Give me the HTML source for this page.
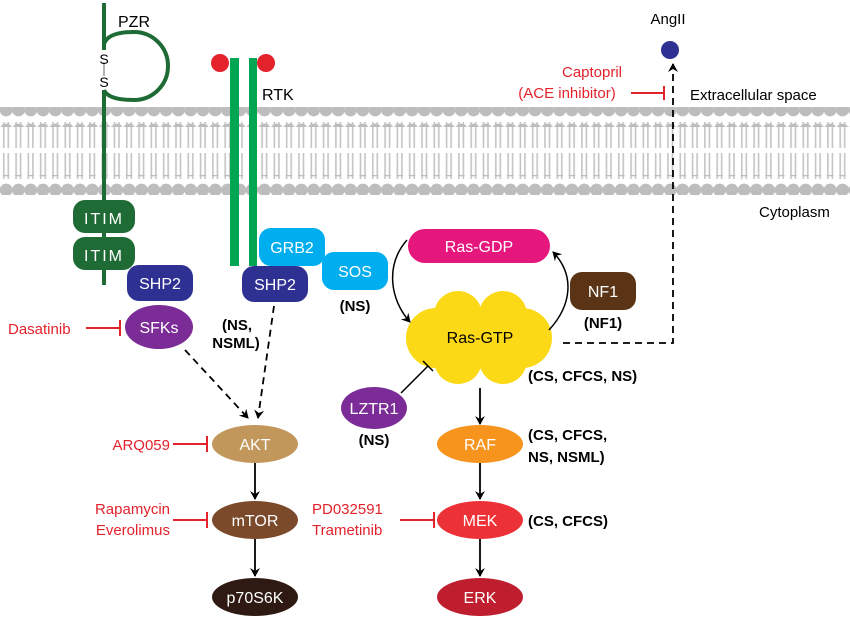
<!DOCTYPE html>
<html><head><style>body{margin:0;background:#fff}svg{display:block}text{font-family:"Liberation Sans",sans-serif}</style></head><body>
<svg width="850" height="617" viewBox="0 0 850 617" xmlns="http://www.w3.org/2000/svg">
<defs>
<pattern id="tails" x="0" y="0" width="12.3" height="80" patternUnits="userSpaceOnUse">
<rect x="3" y="0" width="1.6" height="80" fill="#c4c4c4"/><rect x="7.5" y="0" width="1.6" height="80" fill="#c4c4c4"/>
</pattern>
<pattern id="heads" x="0" y="0" width="12.3" height="20" patternUnits="userSpaceOnUse">
<circle cx="6.15" cy="10" r="6.4" fill="#bdbdbd"/>
</pattern>
<marker id="ah" markerWidth="10" markerHeight="10" refX="8" refY="5" orient="auto" markerUnits="userSpaceOnUse"><path d="M0,0 L9,5 L0,10 L3,5 z" fill="#000"/></marker>
</defs>
<!-- membrane -->
<rect x="0" y="122" width="850" height="26" fill="url(#tails)"/>
<rect x="0" y="153" width="850" height="26" fill="url(#tails)"/>
<rect x="0" y="107" width="850" height="20" fill="url(#heads)"/>
<rect x="0" y="175" width="850" height="20" fill="url(#heads)"/>
<text x="690" y="100" font-size="15">Extracellular space</text>
<text x="759" y="217" font-size="15">Cytoplasm</text>
<!-- PZR -->
<line x1="104" y1="3" x2="104" y2="50" stroke="#1f6b35" stroke-width="4"/>
<line x1="104" y1="90" x2="104" y2="285" stroke="#1f6b35" stroke-width="4"/>
<line x1="104" y1="62" x2="104" y2="76" stroke="#666" stroke-width="1"/>
<path d="M104,44 Q108,32 134,32 A34,34 0 0 1 134,100 Q108,100 104,90" fill="none" stroke="#1f6b35" stroke-width="4"/>
<text x="104" y="64" font-size="14" text-anchor="middle">S</text>
<text x="104" y="87" font-size="14" text-anchor="middle">S</text>
<text x="118" y="27" font-size="16">PZR</text>
<rect x="73" y="200" width="62" height="33" rx="12" fill="#1f6b35"/>
<rect x="73" y="237" width="62" height="33" rx="12" fill="#1f6b35"/>
<text x="104" y="224" font-size="16" fill="#fff" text-anchor="middle" letter-spacing="2">ITIM</text>
<text x="104" y="261" font-size="16" fill="#fff" text-anchor="middle" letter-spacing="2">ITIM</text>
<!-- RTK -->
<rect x="230" y="58" width="9" height="208" fill="#00a651"/>
<rect x="249" y="58" width="8" height="208" fill="#00a651"/>
<circle cx="220" cy="63" r="9" fill="#e3222b"/>
<circle cx="266" cy="63" r="9" fill="#e3222b"/>
<text x="262" y="100" font-size="16">RTK</text>
<!-- AngII -->
<circle cx="670" cy="50" r="9" fill="#2e3192"/>
<text x="668" y="24" font-size="15" text-anchor="middle">AngII</text>
<text x="592" y="77" font-size="15" fill="#e3222b" text-anchor="middle">Captopril</text>
<text x="567" y="98" font-size="15" fill="#e3222b" text-anchor="middle">(ACE inhibitor)</text>
<line x1="631" y1="93" x2="664" y2="93" stroke="#e3222b" stroke-width="2"/>
<line x1="664" y1="86" x2="664" y2="100" stroke="#e3222b" stroke-width="2"/>
<path d="M563,343 L673,343 L673,64" fill="none" stroke="#000" stroke-width="1.8" stroke-dasharray="7,5" marker-end="url(#ah)"/>
<!-- blue boxes -->
<rect x="259" y="228" width="66" height="38" rx="12" fill="#00aeef"/>
<text x="292" y="253" font-size="16" fill="#fff" text-anchor="middle">GRB2</text>
<rect x="322" y="252" width="66" height="38" rx="12" fill="#00aeef"/>
<text x="355" y="277" font-size="16" fill="#fff" text-anchor="middle">SOS</text>
<rect x="127" y="265" width="66" height="36" rx="12" fill="#2e3192"/>
<text x="160" y="289" font-size="16" fill="#fff" text-anchor="middle">SHP2</text>
<rect x="242" y="266" width="66" height="36" rx="12" fill="#2e3192"/>
<text x="275" y="290" font-size="16" fill="#fff" text-anchor="middle">SHP2</text>
<text x="355" y="311" font-size="15" font-weight="bold" text-anchor="middle">(NS)</text>
<text x="237" y="330" font-size="15" font-weight="bold" text-anchor="middle">(NS,</text>
<text x="236" y="348" font-size="15" font-weight="bold" text-anchor="middle">NSML)</text>
<!-- SFKs -->
<ellipse cx="159" cy="327" rx="34" ry="22" fill="#7b2c96"/>
<text x="159" y="333" font-size="16" fill="#fff" text-anchor="middle">SFKs</text>
<text x="8" y="334" font-size="15" fill="#e3222b">Dasatinib</text>
<line x1="86" y1="328" x2="120" y2="328" stroke="#e3222b" stroke-width="2"/>
<line x1="120" y1="320" x2="120" y2="336" stroke="#e3222b" stroke-width="2"/>
<line x1="185" y1="350" x2="248" y2="418" stroke="#000" stroke-width="1.8" stroke-dasharray="7,5" marker-end="url(#ah)"/>
<line x1="274" y1="306" x2="258" y2="418" stroke="#000" stroke-width="1.8" stroke-dasharray="7,5" marker-end="url(#ah)"/>
<!-- left chain -->
<ellipse cx="255" cy="444" rx="43" ry="19" fill="#c1975c"/>
<text x="255" y="450" font-size="16" fill="#fff" text-anchor="middle">AKT</text>
<ellipse cx="255" cy="520" rx="43" ry="19" fill="#7b4a2b"/>
<text x="255" y="526" font-size="16" fill="#fff" text-anchor="middle">mTOR</text>
<ellipse cx="255" cy="597" rx="43" ry="19" fill="#2e1a12"/>
<text x="255" y="603" font-size="16" fill="#fff" text-anchor="middle">p70S6K</text>
<line x1="255" y1="463" x2="255" y2="499" stroke="#000" stroke-width="1.8" marker-end="url(#ah)"/>
<line x1="255" y1="539" x2="255" y2="576" stroke="#000" stroke-width="1.8" marker-end="url(#ah)"/>
<text x="170" y="450" font-size="15" fill="#e3222b" text-anchor="end">ARQ059</text>
<line x1="173" y1="444" x2="207" y2="444" stroke="#e3222b" stroke-width="2"/>
<line x1="207" y1="436" x2="207" y2="452" stroke="#e3222b" stroke-width="2"/>
<text x="170" y="514" font-size="15" fill="#e3222b" text-anchor="end">Rapamycin</text>
<text x="170" y="535" font-size="15" fill="#e3222b" text-anchor="end">Everolimus</text>
<line x1="173" y1="520" x2="207" y2="520" stroke="#e3222b" stroke-width="2"/>
<line x1="207" y1="512" x2="207" y2="528" stroke="#e3222b" stroke-width="2"/>
<!-- Ras -->
<rect x="408" y="229" width="142" height="34" rx="17" fill="#e5177d"/>
<text x="479" y="252" font-size="16" fill="#fff" text-anchor="middle">Ras-GDP</text>
<g fill="#fcd917">
<circle cx="436" cy="338" r="30"/><circle cx="522" cy="338" r="30"/>
<circle cx="458" cy="315" r="24"/><circle cx="503" cy="315" r="24"/>
<circle cx="458" cy="360" r="24"/><circle cx="503" cy="360" r="24"/>
<rect x="440" y="310" width="80" height="55"/>
</g>
<text x="480" y="343" font-size="16" text-anchor="middle">Ras-GTP</text>
<path d="M407,240 C385,265 390,300 410,322" fill="none" stroke="#000" stroke-width="1.5" marker-end="url(#ah)"/>
<path d="M549,330 C572,305 575,275 553,252" fill="none" stroke="#000" stroke-width="1.5" marker-end="url(#ah)"/>
<rect x="570" y="272" width="66" height="38" rx="12" fill="#5a3415"/>
<text x="603" y="297" font-size="16" fill="#fff" text-anchor="middle">NF1</text>
<text x="603" y="328" font-size="15" font-weight="bold" text-anchor="middle">(NF1)</text>
<text x="528" y="381" font-size="15" font-weight="bold">(CS, CFCS, NS)</text>
<ellipse cx="374" cy="408" rx="33" ry="21" fill="#7b2c96"/>
<text x="374" y="414" font-size="16" fill="#fff" text-anchor="middle">LZTR1</text>
<text x="374" y="445" font-size="15" font-weight="bold" text-anchor="middle">(NS)</text>
<line x1="401" y1="393" x2="428" y2="366" stroke="#000" stroke-width="1.5"/>
<line x1="423" y1="361" x2="433" y2="371" stroke="#000" stroke-width="1.5"/>
<!-- right chain -->
<ellipse cx="480" cy="444" rx="43" ry="19" fill="#f7941d"/>
<text x="480" y="450" font-size="16" fill="#fff" text-anchor="middle">RAF</text>
<ellipse cx="480" cy="520" rx="43" ry="19" fill="#ed3237"/>
<text x="480" y="526" font-size="16" fill="#fff" text-anchor="middle">MEK</text>
<ellipse cx="480" cy="597" rx="43" ry="19" fill="#be1e2d"/>
<text x="480" y="603" font-size="16" fill="#fff" text-anchor="middle">ERK</text>
<line x1="480" y1="388" x2="480" y2="424" stroke="#000" stroke-width="1.8" marker-end="url(#ah)"/>
<line x1="480" y1="463" x2="480" y2="499" stroke="#000" stroke-width="1.8" marker-end="url(#ah)"/>
<line x1="480" y1="539" x2="480" y2="576" stroke="#000" stroke-width="1.8" marker-end="url(#ah)"/>
<text x="528" y="440" font-size="15" font-weight="bold">(CS, CFCS,</text>
<text x="528" y="462" font-size="15" font-weight="bold">NS, NSML)</text>
<text x="528" y="526" font-size="15" font-weight="bold">(CS, CFCS)</text>
<text x="312" y="514" font-size="15" fill="#e3222b">PD032591</text>
<text x="312" y="535" font-size="15" fill="#e3222b">Trametinib</text>
<line x1="400" y1="520" x2="434" y2="520" stroke="#e3222b" stroke-width="2"/>
<line x1="434" y1="512" x2="434" y2="528" stroke="#e3222b" stroke-width="2"/>
</svg>
</body></html>
